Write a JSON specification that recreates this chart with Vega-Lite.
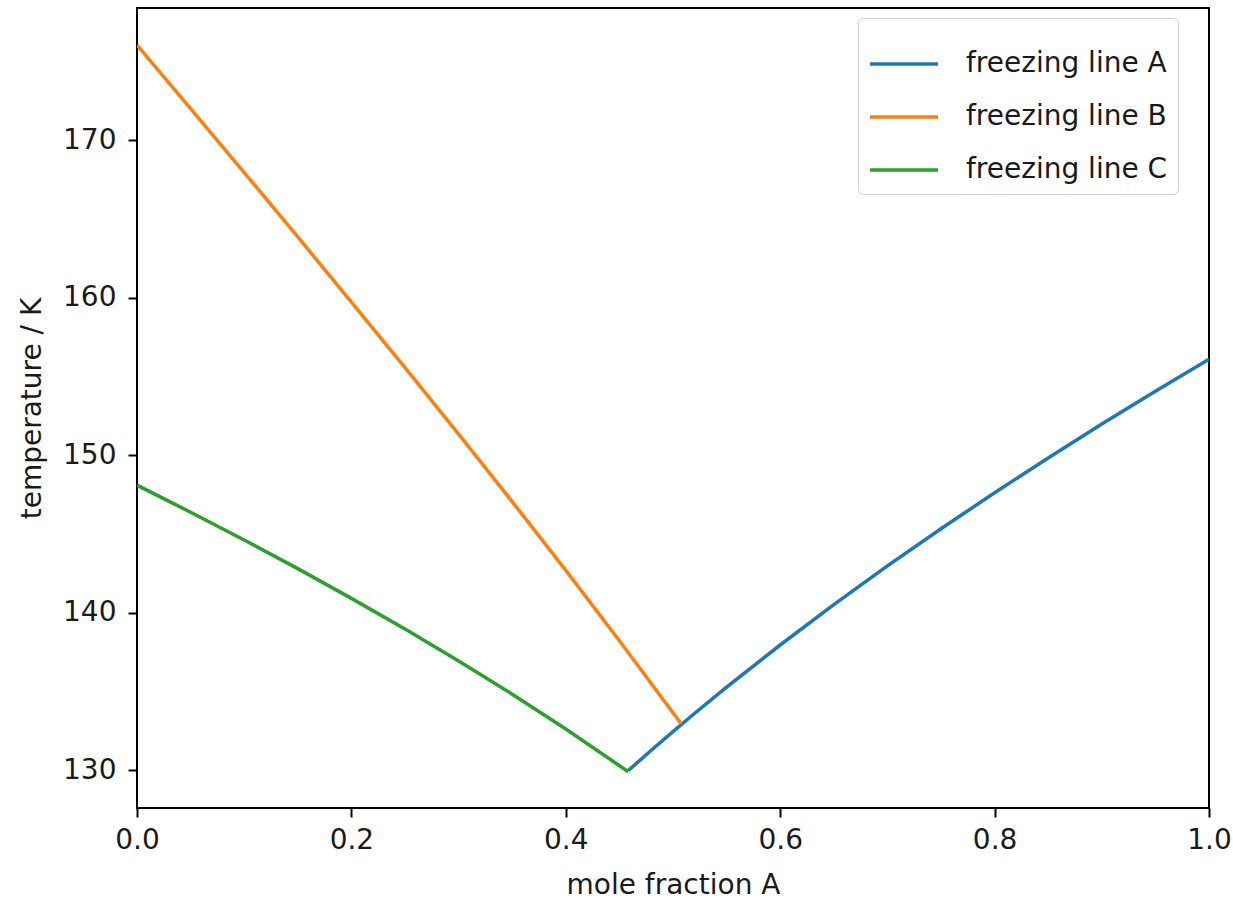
{
  "$schema": "https://vega.github.io/schema/vega-lite/v6.json",
  "width": 1072,
  "height": 800,
  "autosize": {"type": "none"},
  "padding": {"left": 137, "top": 8, "right": 24, "bottom": 92},
  "background": "white",
  "config": {
    "font": "DejaVu Sans",
    "view": {"stroke": "#000", "strokeWidth": 2},
    "axis": {
      "domain": false,
      "grid": false,
      "tickColor": "#000",
      "tickWidth": 2,
      "tickSize": 9,
      "labelFont": "DejaVu Sans",
      "labelFontSize": 28,
      "labelColor": "#1a1a1a",
      "titleFont": "DejaVu Sans",
      "titleFontSize": 28,
      "titleFontWeight": "normal",
      "titleColor": "#1a1a1a"
    }
  },
  "data": {
    "values": [
      {"series": "freezing line A", "x": 0.4583, "T": 129.98},
      {"series": "freezing line A", "x": 0.48, "T": 131.28},
      {"series": "freezing line A", "x": 0.5, "T": 132.45},
      {"series": "freezing line A", "x": 0.52, "T": 133.6},
      {"series": "freezing line A", "x": 0.55, "T": 135.27},
      {"series": "freezing line A", "x": 0.6, "T": 137.95},
      {"series": "freezing line A", "x": 0.65, "T": 140.51},
      {"series": "freezing line A", "x": 0.7, "T": 142.97},
      {"series": "freezing line A", "x": 0.75, "T": 145.33},
      {"series": "freezing line A", "x": 0.8, "T": 147.62},
      {"series": "freezing line A", "x": 0.85, "T": 149.83},
      {"series": "freezing line A", "x": 0.9, "T": 151.98},
      {"series": "freezing line A", "x": 0.95, "T": 154.06},
      {"series": "freezing line A", "x": 1.0, "T": 156.1},
      {"series": "freezing line B", "x": 0.0, "T": 176.05},
      {"series": "freezing line B", "x": 0.05, "T": 172.01},
      {"series": "freezing line B", "x": 0.1, "T": 167.95},
      {"series": "freezing line B", "x": 0.15, "T": 163.86},
      {"series": "freezing line B", "x": 0.2, "T": 159.73},
      {"series": "freezing line B", "x": 0.25, "T": 155.56},
      {"series": "freezing line B", "x": 0.3, "T": 151.34},
      {"series": "freezing line B", "x": 0.35, "T": 147.05},
      {"series": "freezing line B", "x": 0.4, "T": 142.69},
      {"series": "freezing line B", "x": 0.45, "T": 138.22},
      {"series": "freezing line B", "x": 0.5, "T": 133.65},
      {"series": "freezing line B", "x": 0.5075, "T": 132.95},
      {"series": "freezing line C", "x": 0.0, "T": 148.1},
      {"series": "freezing line C", "x": 0.05, "T": 146.38},
      {"series": "freezing line C", "x": 0.1, "T": 144.62},
      {"series": "freezing line C", "x": 0.15, "T": 142.8},
      {"series": "freezing line C", "x": 0.2, "T": 140.91},
      {"series": "freezing line C", "x": 0.25, "T": 138.96},
      {"series": "freezing line C", "x": 0.3, "T": 136.94},
      {"series": "freezing line C", "x": 0.35, "T": 134.83},
      {"series": "freezing line C", "x": 0.4, "T": 132.62},
      {"series": "freezing line C", "x": 0.4583, "T": 129.9}
    ]
  },
  "mark": {"type": "line", "strokeWidth": 3.5, "clip": true},
  "encoding": {
    "x": {
      "field": "x",
      "type": "quantitative",
      "scale": {"domain": [0, 1], "nice": false, "zero": false},
      "axis": {"title": "mole fraction A", "values": [0, 0.2, 0.4, 0.6, 0.8, 1.0], "format": ".1f", "labelFlush": false, "labelPadding": 9, "titlePadding": 17}
    },
    "y": {
      "field": "T",
      "type": "quantitative",
      "scale": {"domain": [127.6, 178.4], "nice": false, "zero": false},
      "axis": {"title": "temperature / K", "values": [130, 140, 150, 160, 170], "labelPadding": 12, "titlePadding": 16}
    },
    "color": {
      "field": "series",
      "type": "nominal",
      "scale": {"domain": ["freezing line A", "freezing line B", "freezing line C"], "range": ["#1f77b4", "#ff7f0e", "#2ca02c"]},
      "legend": {
        "title": null,
        "orient": "none",
        "legendX": 721,
        "legendY": 10,
        "symbolType": "stroke",
        "symbolSize": 4624,
        "symbolStrokeWidth": 3.5,
        "labelFontSize": 28,
        "labelLimit": 600,
        "labelColor": "#1a1a1a",
        "labelOffset": 26,
        "rowPadding": 3,
        "padding": 10,
        "strokeColor": "#d0d0d0",
        "fillColor": "white",
        "cornerRadius": 5
      }
    }
  }
}
